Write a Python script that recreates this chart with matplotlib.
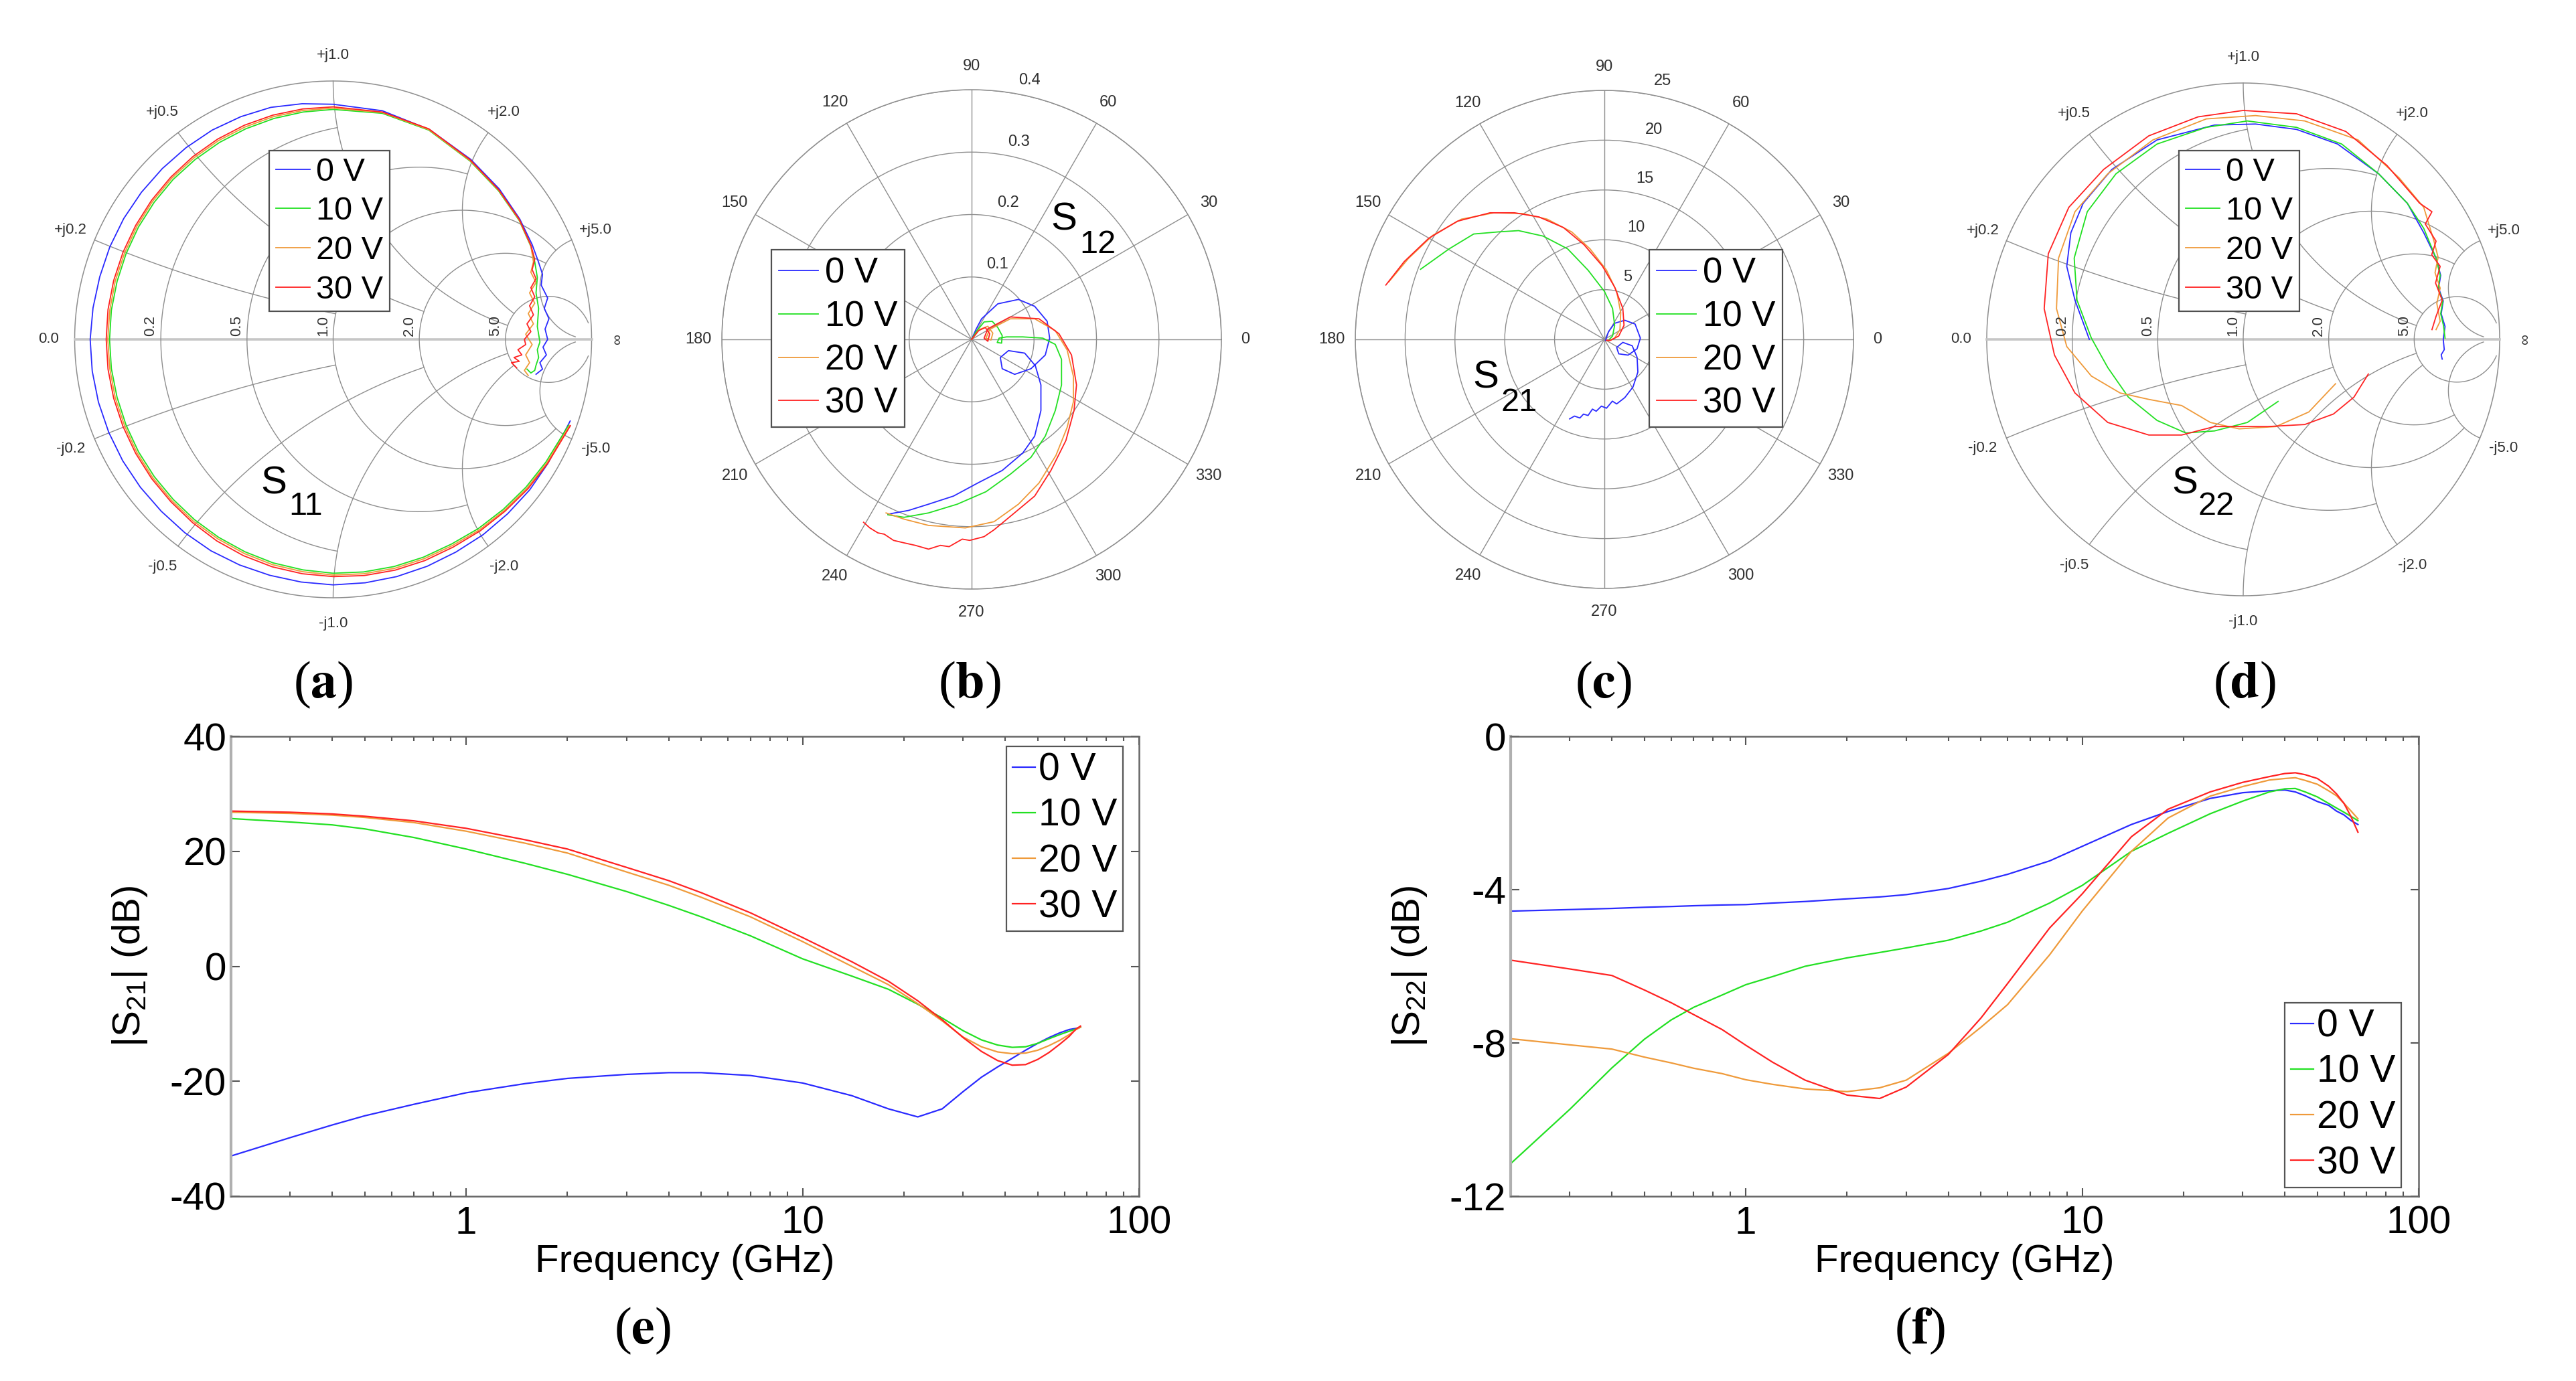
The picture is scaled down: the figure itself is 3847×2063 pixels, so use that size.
import numpy as np
import matplotlib
matplotlib.use("Agg")
import matplotlib.pyplot as plt
import matplotlib.transforms as mtransforms
from matplotlib.ticker import LogLocator, NullFormatter

plt.rcParams["font.family"] = ["Liberation Sans", "DejaVu Sans"]
plt.rcParams["axes.unicode_minus"] = False
plt.rcParams["mathtext.fontset"] = "stix"

W, H = 3847, 2063
VOLTS = ["0 V", "10 V", "20 V", "30 V"]
COLORS = ["#2a2aff", "#22e022", "#ef9a3a", "#ff2222"]

# Smith chart grid values (circle value, value where it stops)
GRID_VALS = [0.2, 0.5, 1.0, 2.0, 5.0]
GRID_ENDS = [1.0, 2.0, 5.0, 5.0, 30.0]

# (a) S11 reflection coefficient, real / imag
S11_RE = [
    [0.917, 0.831, 0.760, 0.675, 0.580, 0.475, 0.364, 0.246, 0.124, 0.0, -0.124, -0.245, -0.362, -0.473, -0.574,
     -0.665, -0.746, -0.814, -0.868, -0.908, -0.932, -0.94, -0.929, -0.903, -0.864, -0.81, -0.742, -0.661, -0.569,
     -0.468, -0.357, -0.241, -0.120, 0.0,
     0.19, 0.373, 0.532, 0.643, 0.722, 0.77, 0.794, 0.81, 0.805, 0.83, 0.817, 0.835, 0.82, 0.83, 0.812, 0.825, 0.8,
     0.81, 0.785],
    [0.911, 0.823, 0.746, 0.658, 0.562, 0.458, 0.349, 0.236, 0.118, 0.0, -0.117, -0.232, -0.341, -0.443, -0.536,
     -0.619, -0.692, -0.753, -0.801, -0.836, -0.858, -0.865, -0.858, -0.836, -0.801, -0.753, -0.692, -0.619, -0.534,
     -0.44, -0.338, -0.229, -0.116, 0.0,
     0.19, 0.37, 0.53, 0.64, 0.72, 0.765, 0.78, 0.79, 0.785, 0.795, 0.79, 0.80, 0.79, 0.795, 0.785, 0.78, 0.765,
     0.75],
    [0.915, 0.827, 0.750, 0.662, 0.566, 0.461, 0.352, 0.238, 0.119, 0.0, -0.118, -0.234, -0.343, -0.446, -0.540,
     -0.624, -0.698, -0.759, -0.807, -0.843, -0.864, -0.872, -0.864, -0.843, -0.807, -0.759, -0.698, -0.624, -0.539,
     -0.444, -0.341, -0.231, -0.117, 0.0,
     0.19, 0.37, 0.53, 0.64, 0.72, 0.765, 0.775, 0.765, 0.785, 0.76, 0.78, 0.755, 0.775, 0.745, 0.77, 0.745, 0.76,
     0.74, 0.755],
    [0.918, 0.83, 0.754, 0.665, 0.569, 0.464, 0.355, 0.24, 0.120, 0.0, -0.119, -0.236, -0.347, -0.45, -0.544,
     -0.628, -0.702, -0.764, -0.813, -0.849, -0.871, -0.878, -0.871, -0.849, -0.813, -0.764, -0.702, -0.628, -0.543,
     -0.447, -0.343, -0.233, -0.117, 0.0,
     0.19, 0.37, 0.53, 0.64, 0.72, 0.765, 0.78, 0.77, 0.785, 0.765, 0.78, 0.76, 0.775, 0.75, 0.765, 0.74, 0.745,
     0.715, 0.73, 0.70, 0.72, 0.69, 0.71],
]
S11_IM = [
    [-0.316, -0.48, -0.583, -0.675, -0.756, -0.823, -0.878, -0.918, -0.942, -0.95, -0.939, -0.913, -0.873, -0.818,
     -0.748, -0.665, -0.572, -0.47, -0.360, -0.243, -0.123, 0.0, 0.122, 0.242, 0.358, 0.468, 0.569, 0.661, 0.742,
     0.81, 0.862, 0.898, 0.912, 0.91,
     0.885, 0.812, 0.697, 0.582, 0.466, 0.367, 0.301, 0.252, 0.21, 0.16, 0.12, 0.08, 0.04, 0.0, -0.03, -0.06, -0.09,
     -0.115, -0.135],
    [-0.332, -0.475, -0.572, -0.658, -0.732, -0.792, -0.843, -0.879, -0.900, -0.905, -0.892, -0.865, -0.822, -0.766,
     -0.698, -0.619, -0.531, -0.435, -0.332, -0.224, -0.113, 0.0, 0.113, 0.224, 0.332, 0.435, 0.531, 0.619, 0.696,
     0.762, 0.815, 0.855, 0.880, 0.89,
     0.875, 0.81, 0.69, 0.575, 0.46, 0.36, 0.30, 0.24, 0.18, 0.12, 0.05, -0.01, -0.04, -0.07, -0.1, -0.12, -0.13,
     -0.115],
    [-0.333, -0.478, -0.576, -0.662, -0.737, -0.798, -0.849, -0.886, -0.907, -0.912, -0.899, -0.872, -0.829, -0.772,
     -0.704, -0.624, -0.535, -0.438, -0.334, -0.226, -0.114, 0.0, 0.114, 0.226, 0.334, 0.438, 0.535, 0.624, 0.702,
     0.769, 0.822, 0.862, 0.886, 0.895,
     0.878, 0.812, 0.692, 0.578, 0.462, 0.362, 0.30, 0.26, 0.22, 0.18, 0.14, 0.10, 0.06, 0.02, -0.02, -0.06, -0.09,
     -0.12, -0.14],
    [-0.334, -0.48, -0.578, -0.665, -0.741, -0.804, -0.856, -0.893, -0.914, -0.918, -0.907, -0.88, -0.837, -0.78,
     -0.709, -0.628, -0.539, -0.441, -0.337, -0.228, -0.115, 0.0, 0.115, 0.228, 0.337, 0.441, 0.539, 0.628, 0.707,
     0.775, 0.829, 0.868, 0.892, 0.90,
     0.88, 0.815, 0.695, 0.58, 0.465, 0.365, 0.31, 0.27, 0.235, 0.2, 0.165, 0.13, 0.095, 0.06, 0.03, 0.0, -0.02,
     -0.04, -0.06, -0.07, -0.085, -0.09, -0.11],
]

# (b) S12, real / imag
S12_RE = [
    [0.0, 0.007, 0.016, 0.042, 0.075, 0.101, 0.121, 0.125, 0.118, 0.095, 0.069, 0.049, 0.046, 0.059, 0.085, 0.102,
     0.111, 0.111, 0.101, 0.082, 0.049, 0.010, -0.029, -0.069, -0.101, -0.134],
    [0.0, 0.007, 0.020, 0.033, 0.042, 0.049, 0.048, 0.041, 0.044, 0.056, 0.082, 0.114, 0.134, 0.144, 0.144, 0.134,
     0.118, 0.095, 0.062, 0.023, -0.023, -0.069, -0.108, -0.134],
    [0.0, 0.013, 0.026, 0.034, 0.031, 0.023, 0.029, 0.062, 0.101, 0.134, 0.153, 0.163, 0.163, 0.153, 0.135, 0.108,
     0.075, 0.036, -0.010, -0.069, -0.108, -0.137],
    [0.0, 0.011, 0.022, 0.029, 0.026, 0.020, 0.026, 0.062, 0.108, 0.140, 0.160, 0.168, 0.164, 0.151, 0.127, 0.101,
     0.065, 0.036, 0.020, -0.003, -0.015, -0.036, -0.050, -0.069, -0.090, -0.108, -0.125, -0.140, -0.150, -0.163,
     -0.173],
]
S12_IM = [
    [0.0, 0.016, 0.033, 0.057, 0.064, 0.053, 0.029, 0.002, -0.025, -0.047, -0.056, -0.047, -0.029, -0.018, -0.022,
     -0.042, -0.073, -0.114, -0.155, -0.182, -0.210, -0.230, -0.251, -0.264, -0.274, -0.280],
    [0.0, 0.012, 0.028, 0.029, 0.019, 0.006, -0.006, -0.005, 0.002, 0.004, 0.004, 0.002, -0.008, -0.032, -0.073,
     -0.114, -0.155, -0.189, -0.216, -0.244, -0.264, -0.278, -0.285, -0.281],
    [0.0, 0.016, 0.021, 0.010, -0.001, 0.002, 0.016, 0.033, 0.033, 0.014, -0.017, -0.059, -0.100, -0.141, -0.186,
     -0.230, -0.264, -0.292, -0.302, -0.298, -0.288, -0.278],
    [0.0, 0.014, 0.019, 0.009, -0.003, 0.002, 0.017, 0.036, 0.033, 0.009, -0.025, -0.073, -0.114, -0.162, -0.210,
     -0.251, -0.281, -0.305, -0.316, -0.322, -0.320, -0.332, -0.330, -0.336, -0.330, -0.326, -0.322, -0.312, -0.310,
     -0.302, -0.293],
]

# (c) S21, real / imag
S21_RE = [
    [0.12, 0.41, 1.03, 2.05, 3.08, 3.61, 3.28, 2.38, 1.44, 1.23, 1.85, 2.79, 3.28, 3.36, 2.87, 2.05, 1.23, 0.80,
     0.21, -0.30, -0.82, -1.20, -1.64, -2.10, -2.46, -3.00, -3.49],
    [-18.45, -15.58, -13.12, -10.66, -8.61, -6.15, -3.69, -1.64, 0.0, 0.82, 1.03, 0.82, 0.41],
    [-21.65, -19.68, -17.22, -14.35, -11.07, -8.20, -5.74, -3.28, -1.44, 0.21, 1.23, 1.64, 1.56, 1.03, 0.41],
    [-21.93, -20.09, -17.63, -14.76, -11.48, -9.02, -6.56, -4.10, -2.05, -0.21, 1.03, 1.85, 1.97, 1.44, 0.62, 0.21],
]
S21_IM = [
    [-0.09, 0.77, 1.62, 1.92, 1.54, 0.13, -0.94, -1.58, -1.45, -0.81, -0.30, -0.64, -1.79, -3.28, -4.78, -5.84,
     -6.48, -6.20, -6.91, -6.70, -7.21, -7.00, -7.64, -7.50, -7.89, -7.70, -7.98],
    [7.04, 9.09, 10.58, 10.79, 10.92, 10.37, 9.09, 6.95, 4.82, 3.11, 1.41, 0.34, -0.09],
    [5.76, 8.11, 10.45, 12.07, 12.71, 12.63, 12.07, 10.79, 9.09, 6.95, 4.82, 2.69, 0.98, 0.13, -0.17],
    [5.46, 7.81, 10.15, 11.86, 12.71, 12.71, 12.29, 11.22, 9.51, 7.38, 5.25, 3.11, 1.41, 0.34, -0.09, -0.09],
]

# (d) S22, real / imag
S22_RE = [
    [-0.6, -0.656, -0.688, -0.672, -0.624, -0.512, -0.336, -0.112, 0.048, 0.208, 0.368, 0.528, 0.64, 0.704, 0.752,
     0.77, 0.762, 0.78, 0.772, 0.787, 0.78, 0.784, 0.772, 0.776],
    [0.136, 0.016, -0.112, -0.224, -0.336, -0.448, -0.528, -0.592, -0.648, -0.659, -0.608, -0.496, -0.336, -0.144,
     0.016, 0.208, 0.384, 0.528, 0.64, 0.704, 0.752, 0.768, 0.76, 0.778, 0.77, 0.781, 0.787],
    [0.36, 0.256, 0.128, -0.016, -0.128, -0.24, -0.368, -0.48, -0.592, -0.688, -0.728, -0.72, -0.656, -0.528, -0.352,
     -0.144, 0.048, 0.24, 0.448, 0.608, 0.704, 0.744, 0.76, 0.748, 0.768, 0.755, 0.768, 0.752],
    [0.488, 0.432, 0.352, 0.24, 0.096, -0.112, -0.24, -0.368, -0.528, -0.656, -0.736, -0.776, -0.76, -0.68, -0.544,
     -0.368, -0.176, 0.0, 0.208, 0.4, 0.56, 0.688, 0.736, 0.71, 0.752, 0.735, 0.768, 0.75, 0.776, 0.752, 0.736],
]
S22_IM = [
    [0.0, 0.153, 0.285, 0.416, 0.531, 0.663, 0.778, 0.836, 0.84, 0.819, 0.762, 0.646, 0.531, 0.416, 0.317, 0.25, 0.2,
     0.15, 0.1, 0.05, 0.0, -0.04, -0.06, -0.077],
    [-0.242, -0.324, -0.357, -0.365, -0.316, -0.225, -0.11, 0.005, 0.153, 0.317, 0.498, 0.646, 0.762, 0.827, 0.852,
     0.827, 0.762, 0.646, 0.531, 0.433, 0.317, 0.25, 0.2, 0.15, 0.1, 0.054, 0.005],
    [-0.173, -0.283, -0.34, -0.349, -0.324, -0.258, -0.234, -0.209, -0.143, -0.028, 0.12, 0.317, 0.498, 0.646, 0.778,
     0.86, 0.873, 0.852, 0.778, 0.63, 0.515, 0.383, 0.32, 0.26, 0.2, 0.14, 0.071, 0.038],
    [-0.135, -0.225, -0.291, -0.332, -0.34, -0.34, -0.373, -0.373, -0.324, -0.209, -0.061, 0.12, 0.334, 0.515, 0.663,
     0.794, 0.868, 0.893, 0.88, 0.811, 0.679, 0.531, 0.498, 0.45, 0.383, 0.33, 0.285, 0.22, 0.153, 0.09, 0.038],
]

# (e) |S21| in dB
E_FREQ = [0.2, 0.3, 0.4, 0.5, 0.7, 1, 1.5, 2, 3, 4, 5, 7, 10, 14, 18, 22, 26, 30, 34, 38, 42, 46, 50, 54, 58, 62,
          65, 67]
E_0V = [-33.0, -29.8, -27.6, -26.0, -24.0, -22.0, -20.4, -19.5, -18.8, -18.5, -18.5, -19.0, -20.3, -22.5, -24.8,
        -26.2, -24.8, -21.8, -19.3, -17.5, -16.0, -14.6, -13.4, -12.4, -11.6, -11.0, -10.8, -10.6]
E_10V = [25.7, 25.1, 24.6, 23.9, 22.4, 20.4, 17.9, 16.0, 13.0, 10.6, 8.6, 5.3, 1.3, -1.7, -4.0, -6.6, -9.0, -11.2,
         -12.8, -13.7, -14.1, -14.0, -13.4, -12.6, -11.9, -11.3, -10.9, -10.6]
E_20V = [26.8, 26.6, 26.3, 25.9, 25.0, 23.5, 21.4, 19.7, 16.4, 14.1, 12.0, 8.6, 4.3, 0.0, -3.2, -6.5, -9.5, -12.3,
         -14.0, -14.9, -15.2, -15.1, -14.6, -13.8, -12.9, -11.9, -11.0, -10.6]
E_30V = [27.0, 26.8, 26.5, 26.1, 25.3, 24.0, 22.0, 20.4, 17.2, 14.9, 12.8, 9.3, 5.0, 0.8, -2.6, -6.0, -9.3, -12.4,
         -14.8, -16.4, -17.2, -17.1, -16.2, -15.0, -13.6, -12.2, -10.9, -10.4]

# (f) |S22| in dB
F_FREQ = [0.2, 0.3, 0.4, 0.5, 0.6, 0.7, 0.85, 1, 1.2, 1.5, 2, 2.5, 3, 4, 5, 6, 8, 10, 14, 18, 24, 30, 36, 40, 43,
          46, 50, 54, 57, 60, 63, 66]
F_0V = [-4.56, -4.52, -4.49, -4.46, -4.44, -4.42, -4.40, -4.39, -4.35, -4.31, -4.24, -4.19, -4.13, -3.97, -3.78,
        -3.60, -3.25, -2.87, -2.30, -1.96, -1.62, -1.47, -1.42, -1.40, -1.45, -1.55, -1.70, -1.80, -1.95, -2.05,
        -2.20, -2.30]
F_10V = [-11.15, -9.73, -8.65, -7.90, -7.40, -7.07, -6.75, -6.48, -6.27, -6.00, -5.78, -5.64, -5.52, -5.32, -5.08,
         -4.85, -4.35, -3.89, -3.00, -2.53, -2.02, -1.69, -1.45, -1.37, -1.36, -1.45, -1.58, -1.75, -1.87, -1.98,
         -2.09, -2.20]
F_20V = [-7.89, -8.05, -8.16, -8.37, -8.52, -8.66, -8.80, -8.96, -9.08, -9.20, -9.27, -9.17, -8.97, -8.27, -7.59,
         -7.00, -5.70, -4.56, -3.00, -2.13, -1.56, -1.31, -1.14, -1.10, -1.08, -1.15, -1.25, -1.42, -1.55, -1.75,
         -1.95, -2.15]
F_30V = [-5.84, -6.07, -6.24, -6.62, -6.95, -7.26, -7.65, -8.06, -8.50, -8.97, -9.36, -9.45, -9.15, -8.30, -7.35,
         -6.45, -5.00, -4.11, -2.62, -1.90, -1.45, -1.20, -1.05, -0.97, -0.95, -1.00, -1.10, -1.30, -1.50, -1.75,
         -2.10, -2.50]

GRID_C = "#8e8e8e"
TEXT_C = "#303030"

fig = plt.figure(figsize=(W / 100, H / 100), dpi=100)
fig.patch.set_facecolor("white")


def rect(left, top, width, height):
    return [left / W, 1 - (top + height) / H, width / W, height / H]


def top_legend(ax, handles, left, top, fs, hl):
    leg = ax.legend(handles, VOLTS, loc="upper left", bbox_to_anchor=(left / W, 1 - top / H),
                    bbox_transform=fig.transFigure, borderaxespad=0, fontsize=fs, handlelength=hl,
                    handletextpad=0.18, labelspacing=0.28, borderpad=0.2, fancybox=False, framealpha=1,
                    edgecolor="#505050")
    leg.get_frame().set_linewidth(1.6)


def smith(cx, cy, R, re_list, im_list, leg_xy):
    lim = 1.25
    ax = fig.add_axes(rect(cx - lim * R, cy - lim * R, 2 * lim * R, 2 * lim * R))
    ax.set_xlim(-lim, lim)
    ax.set_ylim(-lim, lim)
    ax.set_aspect("equal")
    ax.axis("off")
    t = np.linspace(0, 2 * np.pi, 721)
    ax.plot(np.cos(t), np.sin(t), color=GRID_C, lw=1.1)
    ax.plot([-1, 1], [0, 0], color="#c6c6c6", lw=2.6)
    for v, e in zip(GRID_VALS, GRID_ENDS):
        z = v + 1j * np.linspace(-e, e, 4001)
        g = (z - 1) / (z + 1)
        ax.plot(g.real, g.imag, color=GRID_C, lw=1.0)
        for s in (1, -1):
            z = np.linspace(0, e, 4001) + 1j * s * v
            g = (z - 1) / (z + 1)
            ax.plot(g.real, g.imag, color=GRID_C, lw=1.0)
        a = np.pi - 2 * np.arctan(v)
        ax.text(1.1 * np.cos(a), 1.1 * np.sin(a), "+j%.1f" % v, ha="center", va="center",
                fontsize=16, color=TEXT_C)
        ax.text(1.1 * np.cos(a), -1.1 * np.sin(a), "-j%.1f" % v, ha="center", va="center",
                fontsize=16, color=TEXT_C)
        gr = (v - 1) / (v + 1)
        ax.text(gr - 0.012, 0.012, "%.1f" % v, rotation=90, ha="right", va="bottom",
                fontsize=16, color=TEXT_C)
    ax.text(-1.1, 0, "0.0", ha="center", va="center", fontsize=16, color=TEXT_C)
    ax.text(1.1, 0, "\u221e", rotation=90, ha="center", va="center", fontsize=16, color=TEXT_C)
    handles = []
    for re, im, c in zip(re_list, im_list, COLORS):
        handles.append(ax.plot(re, im, color=c, lw=1.3)[0])
    top_legend(ax, handles, leg_xy[0], leg_xy[1], 35, 1.06)
    return ax


def polar(cx, cy, R, re_list, im_list, rmax, rticks, rlabels, leg_xy):
    ax = fig.add_axes(rect(cx - R, cy - R, 2 * R, 2 * R), projection="polar")
    handles = []
    for re, im, c in zip(re_list, im_list, COLORS):
        z = np.array(re) + 1j * np.array(im)
        handles.append(ax.plot(np.angle(z), np.abs(z), color=c, lw=1.3)[0])
    ax.set_ylim(0, rmax)
    ax.set_yticks(rticks)
    ax.set_yticklabels([])
    ax.set_xticks(np.deg2rad(np.arange(0, 360, 30)))
    ax.set_xticklabels([])
    ax.grid(True, color=GRID_C, lw=1.0, ls="-")
    ax.spines["polar"].set_color(GRID_C)
    ax.spines["polar"].set_linewidth(1.1)
    for deg in range(0, 360, 30):
        ax.text(np.deg2rad(deg), 1.095 * rmax, str(deg), ha="center", va="center", fontsize=17,
                color=TEXT_C, clip_on=False)
    off = mtransforms.offset_copy(ax.transData, fig=fig, x=22, y=20, units="dots")
    for v, lab in zip(rticks, rlabels):
        ax.text(np.deg2rad(80), v, lab, transform=off, ha="center", va="center", fontsize=17,
                color=TEXT_C)
    top_legend(ax, handles, leg_xy[0], leg_xy[1], 38, 1.13)
    return ax


smith(497.5, 507, 386, S11_RE, S11_IM, (402, 225))
polar(1451, 507, 373, S12_RE, S12_IM, 0.4, [0.1, 0.2, 0.3, 0.4], ["0.1", "0.2", "0.3", "0.4"], (1152, 373))
polar(2396, 507, 372, S21_RE, S21_IM, 25, [5, 10, 15, 20, 25], ["5", "10", "15", "20", "25"], (2463, 373))
smith(3350, 507, 383, S22_RE, S22_IM, (3254, 225))

# S-parameter names on the top charts
for (sx, sy, s), (nx, ny, n) in [((409, 722, "S"), (457, 756, "11")), ((1589, 329, "S"), (1639, 366, "12")),
                                 ((2219, 564, "S"), (2269, 601, "21")), ((3263, 722, "S"), (3310, 756, "22"))]:
    fig.text(sx / W, 1 - sy / H, s, fontsize=42, ha="center", va="center")
    fig.text(nx / W, 1 - ny / H, n, fontsize=35, ha="center", va="center")


def freq_plot(left, freq, series, ylim, yticks, ylabel, leg_xy):
    ax = fig.add_axes(rect(left, 1100, 1356, 687))
    handles = [ax.semilogx(freq, s, color=c, lw=1.6)[0] for s, c in zip(series, COLORS)]
    ax.set_xlim(0.2, 100)
    ax.set_ylim(*ylim)
    ax.set_xticks([1, 10, 100])
    ax.set_xticklabels(["1", "10", "100"])
    ax.xaxis.set_minor_locator(LogLocator(base=10, subs=np.arange(2, 10) * 1.0, numticks=20))
    ax.xaxis.set_minor_formatter(NullFormatter())
    ax.set_yticks(yticks)
    ax.set_yticklabels([str(v) for v in yticks])
    ax.tick_params(which="both", direction="in", top=True, right=True, colors="#555555",
                   labelcolor="black", labelsize=42, width=1.5)
    ax.tick_params(which="major", length=9)
    ax.tick_params(which="minor", length=5)
    ax.tick_params(axis="x", pad=10)
    ax.tick_params(axis="y", pad=5)
    for side in ("top", "right", "bottom"):
        ax.spines[side].set_color("#666666")
        ax.spines[side].set_linewidth(1.8)
    ax.spines["left"].set_color("#b0b0b0")
    ax.spines["left"].set_linewidth(3)
    ax.set_xlabel("Frequency (GHz)", fontsize=42, labelpad=2)
    ax.set_ylabel(ylabel, fontsize=42, labelpad=22)
    leg = ax.legend(handles, VOLTS, loc="upper left", bbox_to_anchor=(leg_xy[0] / W, 1 - leg_xy[1] / H),
                    bbox_transform=fig.transFigure, borderaxespad=0, fontsize=41, handlelength=0.6,
                    handletextpad=0.1, labelspacing=0.25, borderpad=0.15, fancybox=False, framealpha=1,
                    edgecolor="#555555")
    leg.get_frame().set_linewidth(1.6)
    return ax


freq_plot(345, E_FREQ, [E_0V, E_10V, E_20V, E_30V], (-40, 40), [-40, -20, 0, 20, 40],
          r"|S$\mathregular{_{21}}$| (dB)", (1503, 1115))
freq_plot(2256, F_FREQ, [F_0V, F_10V, F_20V, F_30V], (-12, 0), [-12, -8, -4, 0],
          r"|S$\mathregular{_{22}}$| (dB)", (3412, 1498))

# panel letters
for x, y, s in [(483, 1023, "a"), (1448, 1023, "b"), (2394, 1023, "c"), (3352, 1023, "d"),
                (959, 1988, "e"), (2867, 1988, "f")]:
    fig.text(x / W, 1 - y / H, r"($\mathbf{%s}$)" % s, fontsize=56, ha="center", va="center",
             family="Liberation Serif")

fig.savefig("out.png", dpi=100, facecolor="white")
